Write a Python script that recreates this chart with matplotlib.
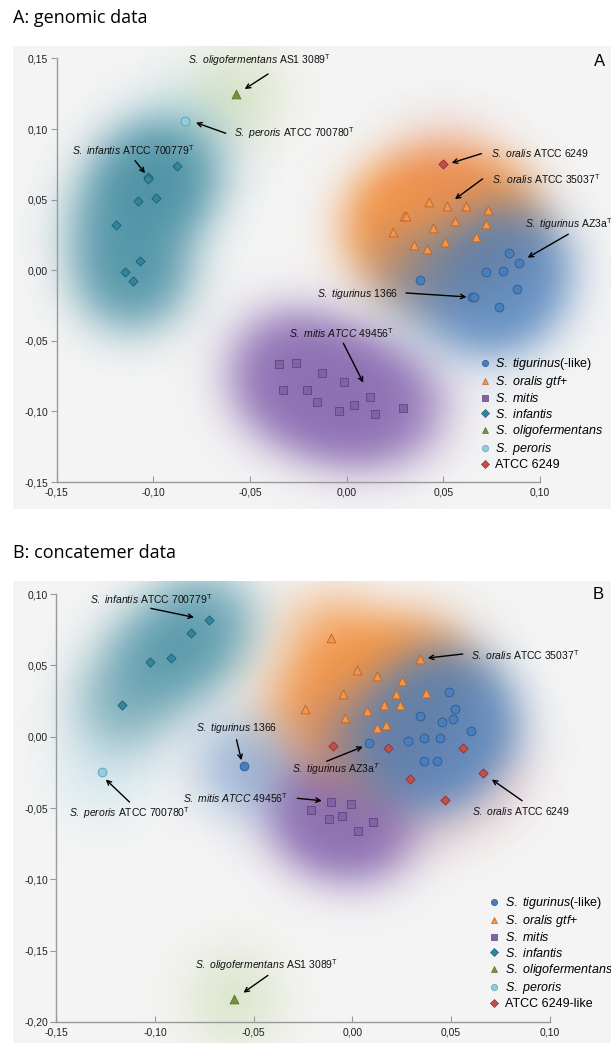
import numpy as np
import matplotlib
matplotlib.use('Agg')
import matplotlib.pyplot as plt
from matplotlib.lines import Line2D
from matplotlib.colors import to_rgb

plt.rcParams['font.family'] = ['Liberation Sans', 'DejaVu Sans']
plt.rcParams['mathtext.fontset'] = 'custom'
plt.rcParams['mathtext.rm'] = 'Liberation Sans'
plt.rcParams['mathtext.it'] = 'Liberation Sans:italic'
plt.rcParams['mathtext.bf'] = 'Liberation Sans:bold'

# ---- panel A: genomic data ----
A_tig_x = [0.0841, 0.0891, 0.0722, 0.0810, 0.0381, 0.0879, 0.0646, 0.0660, 0.0789]
A_tig_y = [0.0120, 0.0050, -0.0012, -0.0003, -0.0071, -0.0132, -0.0189, -0.0189, -0.0262]
A_ora_x = [0.0427, 0.0519, 0.0618, 0.0729, 0.0298, 0.0308, 0.0558, 0.0719, 0.0238, 0.0448, 0.0670, 0.0348, 0.0417, 0.0508]
A_ora_y = [0.0486, 0.0458, 0.0458, 0.0427, 0.0387, 0.0387, 0.0349, 0.0326, 0.0269, 0.0302, 0.0238, 0.0177, 0.0151, 0.0198]
A_mit_x = [-0.0352, -0.0262, -0.0129, -0.0012, -0.0331, -0.0204, -0.0152, 0.0119, 0.0039, -0.0041, 0.0146, 0.0290]
A_mit_y = [-0.0666, -0.0654, -0.0725, -0.0793, -0.0846, -0.0846, -0.0935, -0.0895, -0.0956, -0.0996, -0.1016, -0.0975]
A_inf_x = [-0.0876, -0.1026, -0.1026, -0.1078, -0.0986, -0.1195, -0.1066, -0.1147, -0.1105]
A_inf_y = [0.0740, 0.0657, 0.0648, 0.0489, 0.0508, 0.0317, 0.0066, -0.0014, -0.0073]
A_oli_x, A_oli_y = [-0.0574], [0.1247]
A_per_x, A_per_y = [-0.0836], [0.1059]
A_atc_x, A_atc_y = [0.0500], [0.0753]

# ---- panel B: concatemer data ----
B_tig_x = [0.0491, 0.0522, 0.0343, 0.0453, 0.0512, 0.0601, 0.0083, 0.0282, 0.0363, 0.0443, 0.0363, 0.0431, -0.0550]
B_tig_y = [0.0313, 0.0194, 0.0145, 0.0101, 0.0122, 0.0042, -0.0046, -0.0028, -0.0007, -0.0007, -0.0168, -0.0168, -0.0204]
B_ora_x = [-0.0108, 0.0343, 0.0022, 0.0124, 0.0253, -0.0049, 0.0221, 0.0372, -0.0238, 0.0073, 0.0162, 0.0243, -0.0035, 0.0124, 0.0172]
B_ora_y = [0.0690, 0.0543, 0.0468, 0.0428, 0.0388, 0.0300, 0.0300, 0.0309, 0.0192, 0.0180, 0.0222, 0.0222, 0.0131, 0.0059, 0.0082]
B_mit_x = [-0.0108, -0.0009, -0.0209, -0.0118, -0.0051, 0.0102, 0.0030]
B_mit_y = [-0.0456, -0.0474, -0.0516, -0.0575, -0.0556, -0.0596, -0.0658]
B_inf_x = [-0.0727, -0.0817, -0.0917, -0.1026, -0.1167]
B_inf_y = [0.0816, 0.0725, 0.0554, 0.0524, 0.0224]
B_oli_x, B_oli_y = [-0.0600], [-0.1837]
B_per_x, B_per_y = [-0.1269], [-0.0244]
B_atc_x = [-0.0099, 0.0182, 0.0562, 0.0662, 0.0292, 0.0471]
B_atc_y = [-0.0067, -0.0077, -0.0077, -0.0257, -0.0297, -0.0444]

group_keys = ['tig', 'ora', 'mit', 'inf', 'oli', 'per', 'atc']
labels_A = [r'$\mathit{S.\ tigurinus}$(-like)', r'$\mathit{S.\ oralis\ gtf}$+', r'$\mathit{S.\ mitis}$',
            r'$\mathit{S.\ infantis}$', r'$\mathit{S.\ oligofermentans}$', r'$\mathit{S.\ peroris}$', 'ATCC 6249']
labels_B = labels_A[:6] + ['ATCC 6249-like']

# marker, face, edge, size, blob colour, blob alpha
style = {
    'tig': ('o', '#4a7ebb', '#2c5a92', 40, '#4a7ebb', 0.85),
    'ora': ('^', '#f79646', '#b8652a', 40, '#f38a30', 0.90),
    'mit': ('s', '#8064a2', '#5c4580', 28, '#7b57a8', 0.85),
    'inf': ('D', '#31859c', '#1f5f70', 22, '#2f8197', 0.85),
    'oli': ('^', '#77933c', '#5a722a', 40, '#a5c46a', 0.50),
    'per': ('o', '#93cddd', '#5a9fb5', 40, '#a8d8e8', 0.55),
    'atc': ('D', '#c0504d', '#8c3331', 22, '#d88080', 0.40),
}

annot_A = [
    (r'$\mathit{S.\ oligofermentans}$ AS1 3089$^{\mathrm{T}}$', (-0.0448, 0.1485), 'center', (-0.0406, 0.139), (-0.0527, 0.1283)),
    (r'$\mathit{S.\ peroris}$ ATCC 700780$^{\mathrm{T}}$', (-0.0581, 0.0970), 'left', (-0.0625, 0.097), (-0.0779, 0.1045)),
    (r'$\mathit{S.\ infantis}$ ATCC 700779$^{\mathrm{T}}$', (-0.1104, 0.0852), 'center', (-0.1094, 0.0776), (-0.1042, 0.0687)),
    (r'$\mathit{S.\ oralis}$ ATCC 6249', (0.0745, 0.0827), 'left', (0.0697, 0.0826), (0.0543, 0.0760)),
    (r'$\mathit{S.\ oralis}$ ATCC 35037$^{\mathrm{T}}$', (0.0750, 0.0645), 'left', (0.0703, 0.0647), (0.0560, 0.0503)),
    (r'$\mathit{S.\ tigurinus}$ AZ3a$^{\mathrm{T}}$', (0.0922, 0.0326), 'left', (0.1146, 0.0255), (0.0936, 0.0089)),
    (r'$\mathit{S.\ tigurinus}$ 1366', (0.0264, -0.0168), 'right', (0.0307, -0.0161), (0.0620, -0.0189)),
    (r'$\mathit{S.\ mitis\ ATCC\ 49456}^{\mathrm{T}}$', (-0.0026, -0.0446), 'center', (-0.0017, -0.0517), (0.0086, -0.0796)),
]
annot_B = [
    (r'$\mathit{S.\ infantis}$ ATCC 700779$^{\mathrm{T}}$', (-0.1021, 0.0966), 'center', (-0.1021, 0.0900), (-0.0802, 0.0837)),
    (r'$\mathit{S.\ oralis}$ ATCC 35037$^{\mathrm{T}}$', (0.0601, 0.0573), 'left', (0.0559, 0.0580), (0.0382, 0.0552)),
    (r'$\mathit{S.\ tigurinus}$ 1366', (-0.0588, 0.0059), 'center', (-0.0587, -0.0020), (-0.0562, -0.0165)),
    (r'$\mathit{S.\ tigurinus}$ AZ3a$^{\mathit{T}}$', (-0.0082, -0.0230), 'center', (-0.0130, -0.0172), (0.0053, -0.0070)),
    (r'$\mathit{S.\ mitis\ ATCC\ 49456}^{\mathrm{T}}$', (-0.0325, -0.0432), 'right', (-0.0279, -0.0432), (-0.0155, -0.0449)),
    (r'$\mathit{S.\ peroris}$ ATCC 700780$^{\mathrm{T}}$', (-0.1131, -0.0537), 'center', (-0.1129, -0.0458), (-0.1249, -0.0300)),
    (r'$\mathit{S.\ oralis}$ ATCC 6249', (0.0856, -0.0523), 'center', (0.0860, -0.0449), (0.0706, -0.0300)),
    (r'$\mathit{S.\ oligofermentans}$ AS1 3089$^{\mathrm{T}}$', (-0.0434, -0.1599), 'center', (-0.0428, -0.1674), (-0.0552, -0.1795)),
]

W, H = 611, 1043
fig = plt.figure(figsize=(W / 100, H / 100), dpi=100)
fig.patch.set_facecolor('white')


def comma(v, pos=None):
    return f'{v:.2f}'.replace('.', ',')


def blob(ax, xs, ys, color, amax, xlim, ylim, sx, sy):
    gx = np.linspace(xlim[0], xlim[1], 360)
    gy = np.linspace(ylim[0], ylim[1], 360)
    X, Y = np.meshgrid(gx, gy)
    d = np.zeros_like(X)
    for x, y in zip(xs, ys):
        d += np.exp(-0.5 * (((X - x) / sx) ** 2 + ((Y - y) / sy) ** 2))
    a = amax * (1 - np.exp(-0.75 * d))
    img = np.zeros(X.shape + (4,))
    img[..., :3] = to_rgb(color)
    img[..., 3] = a
    ax.imshow(img, extent=(xlim[0], xlim[1], ylim[0], ylim[1]), origin='lower',
              aspect='auto', interpolation='bilinear', zorder=0.5)


def panel(rect_px, xlim, ylim, xb, yb, yticks, data, labels, annots, letter, leg_xy):
    l, t, r, b = rect_px
    ax = fig.add_axes([l / W, 1 - b / H, (r - l) / W, (b - t) / H])
    ax.set_facecolor('#f4f4f4')
    ax.set_xlim(*xlim)
    ax.set_ylim(*ylim)
    px_x = (r - l) / (xlim[1] - xlim[0])
    px_y = (b - t) / (ylim[1] - ylim[0])
    sig = 33
    for k in ['per', 'oli', 'inf', 'mit', 'ora', 'atc', 'tig']:
        xs, ys = data[k]
        blob(ax, xs, ys, style[k][4], style[k][5], xlim, ylim, sig / px_x, sig / px_y)
    for k in group_keys:
        m, fc, ec, s = style[k][:4]
        xs, ys = data[k]
        ax.scatter(xs, ys, marker=m, s=s, c=fc, edgecolors=ec, linewidths=0.6, zorder=3)
    for txt, (tx, ty), ha, (x0, y0), (x1, y1) in annots:
        ax.text(tx, ty, txt, ha=ha, va='center', fontsize=7.5, color='#111111', zorder=5)
        ax.annotate('', xy=(x1, y1), xytext=(x0, y0),
                    arrowprops=dict(arrowstyle='->', color='black', lw=1.0,
                                    mutation_scale=8, shrinkA=0, shrinkB=0), zorder=5)
    for side in ['top', 'right']:
        ax.spines[side].set_visible(False)
    ax.spines['left'].set_position(('data', xb[0]))
    ax.spines['bottom'].set_position(('data', yb[0]))
    ax.spines['left'].set_bounds(yb[0], yb[1])
    ax.spines['bottom'].set_bounds(xb[0], xb[1])
    for side in ['left', 'bottom']:
        ax.spines[side].set_color('#9a9a9a')
        ax.spines[side].set_linewidth(1.0)
    ax.set_xticks(np.arange(xb[0], xb[1] + 1e-9, 0.05))
    ax.set_yticks(yticks)
    ax.xaxis.set_major_formatter(plt.FuncFormatter(comma))
    ax.yaxis.set_major_formatter(plt.FuncFormatter(comma))
    ax.tick_params(axis='x', direction='in', length=4, color='#9a9a9a', labelsize=7.5,
                   labelcolor='#222222', pad=4)
    ax.tick_params(axis='y', direction='out', length=4, color='#9a9a9a', labelsize=7.5,
                   labelcolor='#222222', pad=2)
    ax.text(letter[1], letter[2], letter[0], fontsize=12, ha='center', va='center', zorder=5)
    handles = [Line2D([], [], ls='', marker=style[k][0], mfc=style[k][1], mec=style[k][2],
                      mew=0.5, ms=4.5) for k in group_keys]
    ax.legend(handles, labels, loc='upper left', bbox_to_anchor=leg_xy, bbox_transform=ax.transData,
              frameon=False, fontsize=9, borderpad=0, handlelength=0.8, handletextpad=0.45,
              labelspacing=0.18, borderaxespad=0)
    return ax


data_A = {'tig': (A_tig_x, A_tig_y), 'ora': (A_ora_x, A_ora_y), 'mit': (A_mit_x, A_mit_y),
          'inf': (A_inf_x, A_inf_y), 'oli': (A_oli_x, A_oli_y), 'per': (A_per_x, A_per_y),
          'atc': (A_atc_x, A_atc_y)}
data_B = {'tig': (B_tig_x, B_tig_y), 'ora': (B_ora_x, B_ora_y), 'mit': (B_mit_x, B_mit_y),
          'inf': (B_inf_x, B_inf_y), 'oli': (B_oli_x, B_oli_y), 'per': (B_per_x, B_per_y),
          'atc': (B_atc_x, B_atc_y)}

panel((13, 46, 611, 509), (-0.1725, 0.1367), (-0.1691, 0.1588), (-0.15, 0.10), (-0.15, 0.15),
      [-0.15, -0.10, -0.05, 0.0, 0.05, 0.10, 0.15], data_A, labels_A, annot_A,
      ('A', 0.131, 0.148), (0.0689, -0.0607))
panel((13, 581, 611, 1043), (-0.1719, 0.1310), (-0.2148, 0.1092), (-0.15, 0.10), (-0.20, 0.10),
      [-0.20, -0.15, -0.10, -0.05, 0.0, 0.05, 0.10], data_B, labels_B, annot_B,
      ('B', 0.1245, 0.1000), (0.0693, -0.1110))

fig.text(13 / W, 1 - 18 / H, 'A: genomic data', fontsize=13, family='Open Sans', va='center')
fig.text(13 / W, 1 - 553 / H, 'B: concatemer data', fontsize=13, family='Open Sans', va='center')

fig.savefig('out.png', dpi=100, facecolor='white')
